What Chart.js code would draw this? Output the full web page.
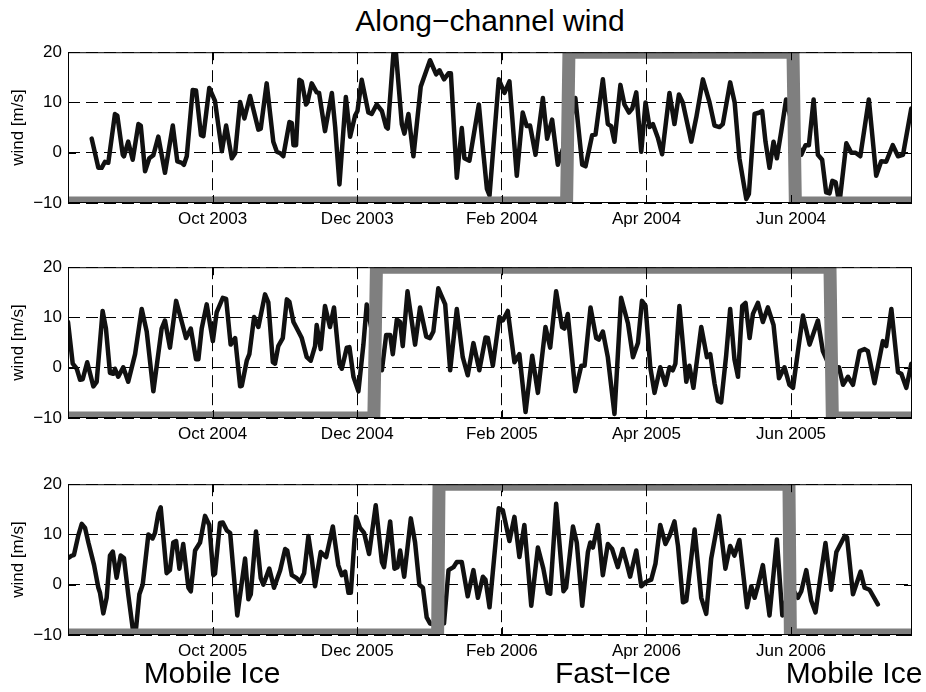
<!DOCTYPE html>
<html>
<head>
<meta charset="utf-8">
<script src="https://cdn.jsdelivr.net/npm/chart.js@4.4.0/dist/chart.umd.min.js"></script>
<style>
  body { margin: 0; background: #fff; width: 926px; height: 692px; position: relative; overflow: hidden;
         font-family: "Liberation Sans", Arial, Helvetica, sans-serif; color: #000; }
  .panel { position: absolute; left: 0; width: 926px; height: 197px; }
  .txt { position: absolute; width: 320px; text-align: center; font-size: 30px; line-height: 30px; white-space: nowrap; }
</style>
</head>
<body>
<div class="txt" style="left:330px; top:6px;">Along−channel wind</div>
<div class="panel" style="top:36px"><canvas id="c1" width="926" height="197"></canvas></div>
<div class="panel" style="top:251px"><canvas id="c2" width="926" height="197"></canvas></div>
<div class="panel" style="top:468px"><canvas id="c3" width="926" height="197"></canvas></div>
<div class="txt" style="left:52px; top:658px;">Mobile Ice</div>
<div class="txt" style="left:453px; top:658px;">Fast−Ice</div>
<div class="txt" style="left:694px; top:658px;">Mobile Ice</div>
<script>
// x = days since 1 August of each year
const tickDays = [61, 122, 183, 244, 305];
const tickLabels1 = ['Oct 2003', 'Dec 2003', 'Feb 2004', 'Apr 2004', 'Jun 2004'];
const tickLabels2 = ['Oct 2004', 'Dec 2004', 'Feb 2005', 'Apr 2005', 'Jun 2005'];
const tickLabels3 = ['Oct 2005', 'Dec 2005', 'Feb 2006', 'Apr 2006', 'Jun 2006'];

// 2003-2004
const days1 = [10.0,12.8,14.2,15.6,17.0,19.8,20.8,23.1,23.6,25.4,
  27.3,29.7,30.7,32.5,34.3,36.0,38.1,40.9,44.2,46.1,
  48.0,48.9,50.1,52.6,54.0,56.1,57.1,59.6,62.0,64.9,
  66.7,69.1,70.5,72.6,74.4,76.8,80.3,81.3,83.8,86.6,
  88.1,89.5,90.8,93.4,94.4,95.1,96.2,97.6,98.6,100.4,
  101.0,102.8,104.9,105.9,108.4,111.3,112.7,114.5,117.2,119.0,
  121.1,122.1,123.9,126.7,128.1,130.2,132.4,134.2,134.9,137.3,
  138.3,140.8,141.9,143.6,145.7,148.8,152.7,155.3,156.7,158.6,
  160.5,161.5,164.0,166.1,167.2,169.3,173.3,175.0,176.7,177.8,
  181.7,184.1,186.2,189.3,191.8,193.5,194.9,197.2,200.3,202.1,
  204.2,206.6,211.0,214.0,216.9,218.3,221.1,222.5,225.6,227.7,
  229.1,230.5,233.0,234.7,236.6,238.0,239.7,241.8,243.6,245.3,
  246.7,248.8,250.6,253.7,255.8,257.7,259.3,262.9,265.0,267.8,
  270.6,272.7,274.8,276.2,279.3,281.2,283.2,286.1,287.2,289.6,
  291.7,292.8,294.2,295.9,297.6,299.0,300.8,302.9,306.3,309.3,
  311.1,312.5,314.5,316.3,318.1,319.8,321.2,322.4,323.8,324.8,
  325.7,328.3,330.4,332.2,334.2,337.8,340.9,343.0,345.1,347.9,
  350.1,352.2,355.7];
const wind1 = [2.8,-3,-3,-1.8,-2,7.7,7.4,-0.4,-0.7,2.2,
  -1.4,5.7,5.4,-3.7,-1.1,-0.5,3.2,-4,5.4,-1.7,
  -2,-2.4,-0.7,12.5,12.4,3.5,3.3,12.9,10.3,0.3,
  5.4,-1.1,-0.1,10.1,6.8,11.3,4.6,4.8,13.8,2.2,
  0.2,-0.1,-0.7,6.1,5.9,1.5,1.5,14.5,14.2,9.6,
  10,13.8,12,11.9,4.3,11.9,5.1,-6.3,11.1,3.2,
  7.4,8.3,14.5,8,7.7,9.6,8.3,5.1,4.8,20,
  20,5.7,3.8,7.7,-0.7,13.2,18.4,15.6,16.4,14.6,
  15.8,15.8,-5,4.9,-1.1,-1.6,9.6,0.9,-7.2,-8.5,
  14.6,11.9,14.2,-4.6,8,5.3,5.4,-0.4,10.9,2.8,
  6.6,-2.4,4,10.9,-2.4,-2.7,3.5,3.6,14.6,5.7,
  5.3,2.2,13.5,9.6,8,8.8,12,0.2,10,5.1,
  5.7,3,-0.3,11.9,5.7,11.6,10,2.2,7,14.6,
  10,5.4,5.1,5.7,14,10,-1.1,-9.2,-8.2,7.7,
  8,8.3,2.2,-3,2.2,-1.1,4.1,10.6,4,-0.4,
  1.5,1.5,10.6,-0.4,-1.4,-7.9,-8.1,-5.6,-5.9,-8.7,
  -8.8,1.9,0,0,-0.7,10.6,-4.6,-1.7,-1.8,1.5,
  -0.7,-0.4,8.8];

// 2004-2005
const days2 = [0,2.0,3.7,5.1,6.2,8.1,10.7,12.1,14.6,16.0,
  17.7,19.1,19.8,21.2,23.3,25.4,28.3,31.1,33.2,36.0,
  39.5,40.9,43.0,45.6,48.0,49.8,51.8,54.0,55.0,56.4,
  58.5,61.1,62.7,65.3,66.7,68.6,70.5,72.6,73.3,75.4,
  76.5,78.5,80.3,83.1,84.5,86.4,87.3,88.7,90.6,92.3,
  93.4,95.1,97.2,98.6,100.7,102.4,104.2,104.9,106.6,108.4,
  110.5,112.2,114.5,115.5,117.6,118.7,120.4,122.5,124.6,126.0,
  129.1,132.4,134.2,135.9,137.0,138.7,140.1,141.2,143.2,146.4,
  148.5,151.1,152.7,154.1,156.2,159.1,161.2,164.0,166.5,168.6,
  171.0,173.5,176.1,177.1,179.2,182.0,183.4,185.5,188.3,190.4,
  193.0,195.8,198.2,201.4,203.4,205.9,208.4,209.4,210.8,214.0,
  216.5,217.9,220.4,222.8,223.9,225.6,227.7,230.5,233.3,236.2,
  238.3,240.4,242.1,243.6,245.6,247.4,249.8,252.0,253.7,255.1,
  256.2,257.9,260.8,262.1,263.8,267.1,269.5,270.9,272.7,274.1,
  275.5,277.6,279.3,281.1,282.6,284.4,285.8,287.5,288.9,291.0,
  293.1,295.2,297.6,299.9,302.2,304.3,305.8,307.9,310.0,312.8,
  316.3,318.4,321.5,325.2,326.9,329.0,331.1,333.9,336.0,337.4,
  340.2,343.7,345.1,347.3,350.1,351.5,353.6,355.7];
const wind2 = [9.1,0.8,-0.2,-2.4,-2.3,1.1,-3.7,-2.8,11.3,7.8,
  -1.0,-1.2,-0.2,-1.8,0.1,-2.8,2.7,11.7,7.2,-4.7,
  7.8,9.4,4.0,13.3,9.1,5.9,7.8,1.7,1.7,7.8,
  12.6,5.3,11.0,13.9,13.7,4.6,5.9,-3.7,-3.6,1.4,
  2.7,10.1,8.1,14.6,13.0,1.1,0.8,4.3,5.9,13.6,
  13.1,9.1,7.2,5.9,2.1,1.4,4.3,8.5,3.7,12.3,
  8.1,12.0,0.8,-0.2,4.0,4.1,-1.8,-4.7,4.6,12.6,
  5,-0.5,6.5,6.5,2.7,9.6,9.1,4.3,15.2,4.6,
  12.0,6.2,5.9,7.2,15.8,12.6,-0.5,11.7,2.1,-1.5,
  4.9,-0.5,6.0,5.9,0.4,10.1,9.4,11.3,1.1,2.7,
  -8.8,2.4,-5.0,8.1,4.0,15.2,8.1,7.8,10.7,-4.7,
  0.4,0.4,12.0,5.9,5.6,7.2,2.1,-9.2,13.9,8.8,
  2.1,4.9,13.3,12.3,0.1,-5.0,0.1,-3.4,0.1,-0.5,
  0.8,12.3,-2.8,0.4,-4.0,8.1,2.1,2.7,-3.1,-6.6,
  -6.9,2.4,11.7,1.7,-1.8,12.3,12.9,5.9,10.7,12.9,
  9.1,12.0,8.5,-2.1,0.1,-3.4,-4.0,3.3,10.4,4.6,
  9.4,3.3,0,0.1,-3.4,-1.8,-3.4,3.3,3.7,3.3,
  -3.1,5.3,4.3,11.7,-0.9,-1.2,-4.0,0.8];

// 2005-2006
const days3 = [0,1.6,2.5,4.3,5.8,7.2,8.6,11.0,12.8,13.5,
  14.9,16.3,17.7,18.9,20.5,22.2,23.6,25.4,27.3,28.7,
  30.1,31.5,33.9,35.7,36.7,38.1,39.1,41.6,43.0,44.4,
  45.6,47.0,48.6,50.8,51.8,53.6,55.7,57.8,59.6,61.3,
  62.0,64.1,65.3,67.0,68.4,71.4,74.7,76.1,77.1,79.3,
  81.3,82.4,84.9,86.9,89.5,91.6,92.5,94.4,96.5,97.9,
  99.6,101.4,102.8,104.2,106.6,108.9,111.7,114.0,115.5,116.9,
  118.3,119.3,121.5,123.2,124.9,127.0,129.8,132.4,133.3,135.9,
  137.7,139.0,140.1,141.8,144.6,146.4,148.2,149.7,151.3,152.7,
  156.0,158.6,160.5,162.6,164.0,166.1,168.6,171.0,172.9,175.0,
  176.1,177.8,181.7,183.4,186.2,188.3,190.4,192.5,195.4,198.2,
  200.5,202.4,203.4,205.9,209.0,210.1,213.0,214.6,216.9,219.3,
  220.3,221.4,223.5,225.6,227.7,229.5,231.9,234.0,235.7,237.1,
  239.7,241.8,243.9,246.0,247.8,249.8,252.0,253.7,255.8,257.3,
  259.4,260.8,264.3,267.1,269.2,271.3,274.6,277.3,279.3,281.1,
  283.2,286.4,288.2,289.6,291.0,293.1,295.9,299.0,301.3,304.6,
  307.9,309.3,311.4,313.5,315.3,317.3,319.5,321.9,324.1,327.6,
  328.6,331.1,334.3,336.0,338.1,341.6];
const wind3 = [5.3,5.8,5.9,9.7,12.1,11.3,8.4,3.9,-0.6,-1.6,
  -5.7,-2.6,5.8,6.6,1.4,5.8,5.3,-1.9,-8.7,-8.7,
  -1.9,0,10.0,9.2,10.3,14.2,15.4,2.3,2.9,8.4,
  8.7,3.2,8.1,-0.6,-1.3,6.8,8.4,13.7,11.9,1.9,
  2.2,12.3,12.4,10.8,10.3,-6.1,5.2,-2.9,-1.9,10.6,
  1.3,0,3.2,-0.6,2.9,7.1,6.8,1.9,1.3,0.6,
  2.3,9.7,5.2,-0.3,6.5,5.5,11.6,3.9,1.9,2.6,
  -1.6,-1.6,13.5,11.3,10.3,6.1,15.8,4.5,3.5,12.6,
  3.2,3.5,6.8,1.6,13.2,8.4,0,-0.6,-6.5,-7.7,
  -8,-7.7,2.9,3.5,4.5,4.5,-2.3,2.9,-2.6,1.6,
  1.0,-4.5,15.2,14.8,8.7,13.5,5.5,11.9,-4.2,7.4,
  3.2,-1.6,-1.8,16.1,-1.3,-0.6,11.6,8.4,-4.2,6.5,
  8.4,7.4,11.9,1.9,8.1,7.1,3.5,7.1,4.2,1.6,
  6.8,-0.3,0.6,1.0,4.2,11.9,8.1,9.7,12.6,7.7,
  -3.5,-3.2,11.0,-2.6,-5.8,5.2,13.7,3.2,7.7,5.8,
  8.9,-4.5,-0.3,-2.6,-0.3,3.9,-6.1,9.0,-6.1,0,
  -2.6,-1.3,2.9,-3.2,-5.5,1.3,8.3,-1.0,6.5,9.7,
  9.4,-1.9,2.6,-0.6,-1.0,-3.9];

// ice state: low = mobile ice, high = fast ice
const iceDays1 = [0, 210.3, 211.3, 305.8, 306.8, 356];
const iceDays2 = [0, 129.0, 130.1, 321.4, 322.4, 356];
const iceDays3 = [0, 155.9, 156.5, 304.1, 304.7, 356];
const iceLevel = [-10, -10, 20, 20, -10, -10];

Chart.defaults.font.family = '"Liberation Sans", Arial, Helvetica, sans-serif';
Chart.defaults.color = '#000';

// box around the axes plus inward tick marks
const framePlugin = {
  id: 'frame',
  afterDatasetsDraw(chart) {
    const { ctx, chartArea: a, scales } = chart;
    ctx.save();
    ctx.strokeStyle = '#000';
    ctx.lineWidth = 1;
    ctx.strokeRect(a.left + 0.5, a.top + 0.5, a.right - a.left - 1, a.bottom - a.top - 1);
    ctx.beginPath();
    scales.x.ticks.forEach(t => {
      const x = Math.round(scales.x.getPixelForValue(t.value)) + 0.5;
      ctx.moveTo(x, a.bottom); ctx.lineTo(x, a.bottom - 8);
      ctx.moveTo(x, a.top); ctx.lineTo(x, a.top + 8);
    });
    scales.y.ticks.forEach(t => {
      const y = Math.round(scales.y.getPixelForValue(t.value)) + 0.5;
      ctx.moveTo(a.left, y); ctx.lineTo(a.left + 8, y);
      ctx.moveTo(a.right, y); ctx.lineTo(a.right - 8, y);
    });
    ctx.stroke();
    ctx.restore();
  }
};

function makePanel(id, days, wind, iceDays, labels) {
  new Chart(document.getElementById(id), {
    type: 'scatter',
    data: {
      datasets: [
        {
          data: iceDays.map((d, i) => ({ x: d, y: iceLevel[i] })),
          showLine: true, borderColor: '#7f7f7f', borderWidth: 13,
          pointRadius: 0, borderJoinStyle: 'miter', order: 0, clip: 0
        },
        {
          data: days.map((d, i) => ({ x: d, y: wind[i] })),
          showLine: true, borderColor: '#111', borderWidth: 4.5,
          pointRadius: 0, borderJoinStyle: 'round', borderCapStyle: 'round', order: 1, clip: 0
        }
      ]
    },
    options: {
      responsive: false,
      animation: false,
      layout: { padding: { top: 12, right: 14, left: 0, bottom: 0 } },
      plugins: { legend: { display: false }, tooltip: { enabled: false } },
      scales: {
        x: {
          type: 'linear', min: 0, max: 356,
          afterBuildTicks: s => { s.ticks = tickDays.map(v => ({ value: v })); },
          afterFit: s => { s.height = 30; },
          ticks: {
            autoSkip: false, maxRotation: 0, padding: 6, font: { size: 17 }, color: '#000',
            callback: v => labels[tickDays.indexOf(v)]
          },
          grid: { color: '#000', lineWidth: 1, drawTicks: false },
          border: { display: false, dash: [12, 6] }
        },
        y: {
          min: -10, max: 20,
          afterFit: s => { s.width = 68; },
          ticks: {
            stepSize: 10, padding: 6, font: { size: 17 }, color: '#000',
            callback: v => v < 0 ? '\u2212' + Math.abs(v) : String(v)
          },
          grid: { color: '#000', lineWidth: 1, drawTicks: false },
          border: { display: false, dash: [12, 6] },
          title: { display: true, text: 'wind [m/s]', font: { size: 17 }, color: '#000', padding: { top: 8, bottom: 0 } }
        }
      }
    },
    plugins: [framePlugin]
  });
}

makePanel('c1', days1, wind1, iceDays1, tickLabels1);
makePanel('c2', days2, wind2, iceDays2, tickLabels2);
makePanel('c3', days3, wind3, iceDays3, tickLabels3);
</script>
</body>
</html>
